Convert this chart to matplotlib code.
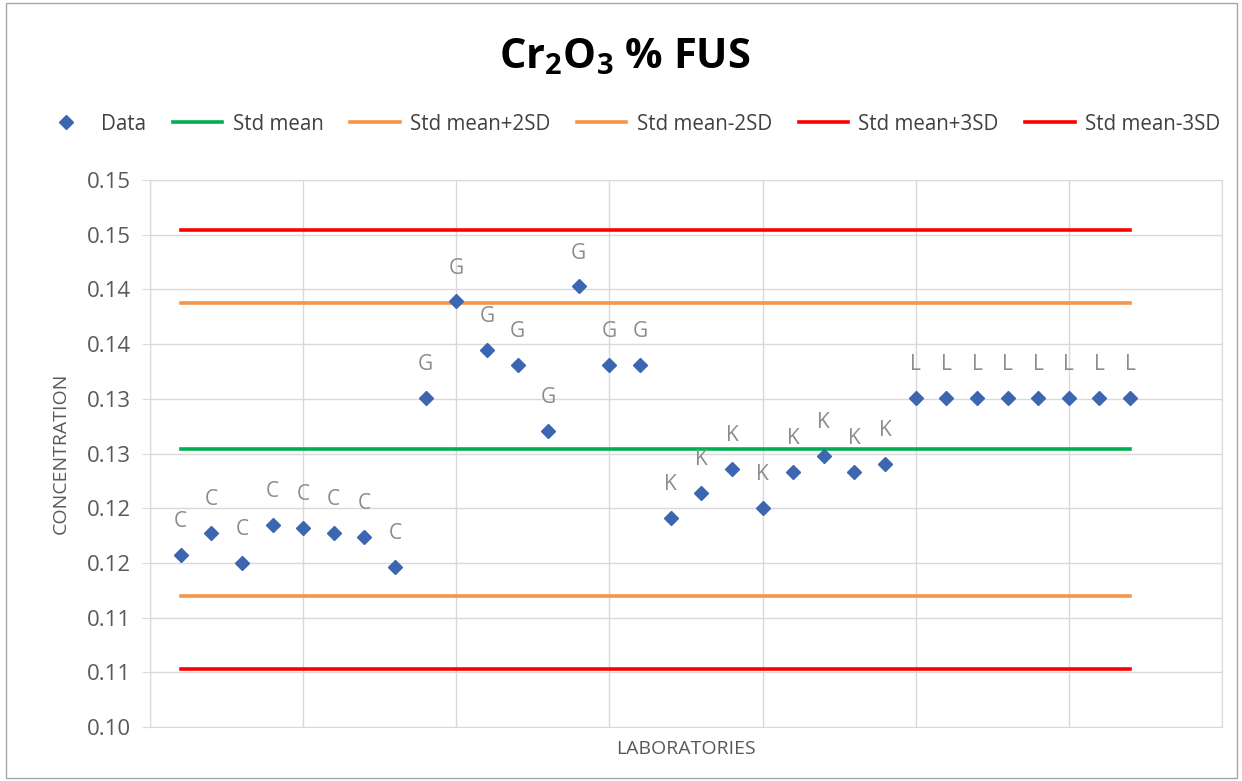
import numpy as np
import matplotlib
matplotlib.use('Agg')
import matplotlib.pyplot as plt
from matplotlib.patches import Rectangle

# values
labs = ['C'] * 8 + ['G'] * 8 + ['K'] * 8 + ['L'] * 8
conc_c = [0.11573, 0.11774, 0.11500, 0.11847, 0.11820, 0.11774, 0.11738, 0.11463]
conc_g = [0.13010, 0.13890, 0.13445, 0.13308, 0.12707, 0.14027, 0.13308, 0.13308]
conc_k = [0.11909, 0.12137, 0.12356, 0.12000, 0.12329, 0.12475, 0.12329, 0.12402]
conc_l = [0.13010] * 8
conc = conc_c + conc_g + conc_k + conc_l

std_mean = 0.12537
sd = 0.006695

yticks = [0.100, 0.105, 0.110, 0.115, 0.120, 0.125, 0.130, 0.135, 0.140, 0.145, 0.150]
ytick_labels = ['0.10', '0.11', '0.11', '0.12', '0.12', '0.13', '0.13', '0.14', '0.14', '0.15', '0.15']

plt.rcParams['font.family'] = ['Open Sans', 'DejaVu Sans']
plt.rcParams['mathtext.fontset'] = 'custom'
plt.rcParams['mathtext.bf'] = 'Open Sans:bold'
plt.rcParams['mathtext.rm'] = 'Open Sans:bold'

fig = plt.figure(figsize=(12.42, 7.81), dpi=100)
ax = fig.add_axes([150 / 1242, 1 - 727 / 781, 1072 / 1242, 547 / 781])

x = np.arange(1, len(conc) + 1)
xs = [x[0], x[-1]]

ax.plot(x, conc, 'D', color='#3C66B0', ms=7.2, label='Data', zorder=5)
ax.plot(xs, [std_mean] * 2, color='#00B050', lw=2.6, label='Std mean')
ax.plot(xs, [std_mean + 2 * sd] * 2, color='#F4954A', lw=2.6, label='Std mean+2SD')
ax.plot(xs, [std_mean - 2 * sd] * 2, color='#F4954A', lw=2.6, label='Std mean-2SD')
ax.plot(xs, [std_mean + 3 * sd] * 2, color='#FF0000', lw=2.6, label='Std mean+3SD')
ax.plot(xs, [std_mean - 3 * sd] * 2, color='#FF0000', lw=2.6, label='Std mean-3SD')

for xi, yi, t in zip(x, conc, labs):
    ax.annotate(t, (xi, yi), xytext=(0, 24), textcoords='offset points',
                ha='center', va='center', fontsize=15, color='#8C8C8C')

ax.set_xlim(0, 35)
ax.set_ylim(0.10, 0.15)
ax.set_xticks(range(0, 36, 5))
ax.set_xticklabels([])
ax.tick_params(axis='x', length=0)
ax.set_yticks(yticks)
ax.set_yticklabels(ytick_labels, fontsize=16, color='#595959')
ax.tick_params(axis='y', length=6, color='#D9D9D9', pad=8)
ax.grid(True, color='#D9D9D9', lw=1)
ax.set_axisbelow(True)
for s in ax.spines.values():
    s.set_color('#D9D9D9')

ax.set_ylabel('CONCENTRATION', fontsize=14, color='#595959', labelpad=12)
ax.set_xlabel('LABORATORIES', fontsize=14, color='#595959', labelpad=6)

fig.text(0.503, 1 - 58 / 781, r'Cr$_{2}$O$_{3}$ % FUS', ha='center', va='center',
         fontsize=30, fontweight='bold', color='black')

fig.legend(loc='center', bbox_to_anchor=(0.508, 1 - 124 / 781), ncol=6, frameon=False,
           fontsize=14.8, handlelength=2.4, handletextpad=0.5, columnspacing=1.3,
           labelcolor='#404040')

fig.patches.append(Rectangle((6 / 1242, 3 / 781), 1231 / 1242, 775 / 781, transform=fig.transFigure,
                             fill=False, edgecolor='#A6A6A6', lw=1))

fig.savefig('out.png', dpi=100)
